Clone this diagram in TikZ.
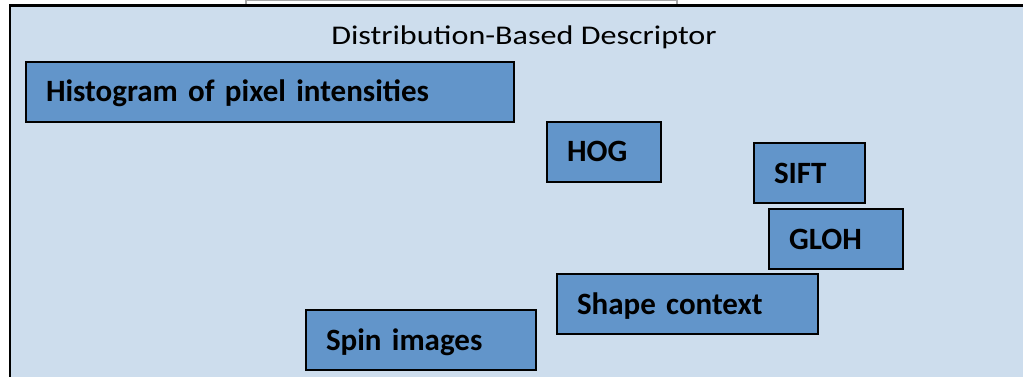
\documentclass[tikz,border=0pt]{standalone}
\usepackage{fontspec}
\setmainfont{Carlito}

\definecolor{panelblue}{RGB}{205,221,237}
\definecolor{boxblue}{RGB}{98,149,202}

\tikzset{
	descbox/.style={draw=black, line width=2pt, fill=boxblue, anchor=north west,
		minimum height=60pt, inner xsep=20pt, align=left,
		text height=20pt, text depth=0pt,
		font=\fontsize{31}{31}\selectfont\bfseries},
}

\begin{document}
\begin{tikzpicture}[x=1pt,y=-1pt]
\useasboundingbox (0,0) rectangle (1023,377);

\draw[gray!70, line width=1.5pt, fill=white] (246,0.5) rectangle (677,8);
\draw[line width=2.5pt, fill=panelblue] (10,400) -- (10,5.5) -- (1040,5.5) -- (1040,400) -- cycle;

\node (title) at (524,37) {\fontsize{27}{27}\selectfont\scalebox{1.19}[1]{Distribution-Based Descriptor}};

\node[descbox, text width=448pt] (hist) at (25,61) {Histogram of pixel intensities};
\node[descbox, text width=74pt] (hog) at (546,121) {HOG};
\node[descbox, text width=71pt] (sift) at (753,142) {SIFT};
\node[descbox, text width=94pt] (gloh) at (768,208) {GLOH};
\node[descbox, text width=221pt] (shape) at (556,273) {Shape context};
\node[descbox, text width=190pt] (spin) at (305,309) {Spin images};
\end{tikzpicture}
\end{document}
